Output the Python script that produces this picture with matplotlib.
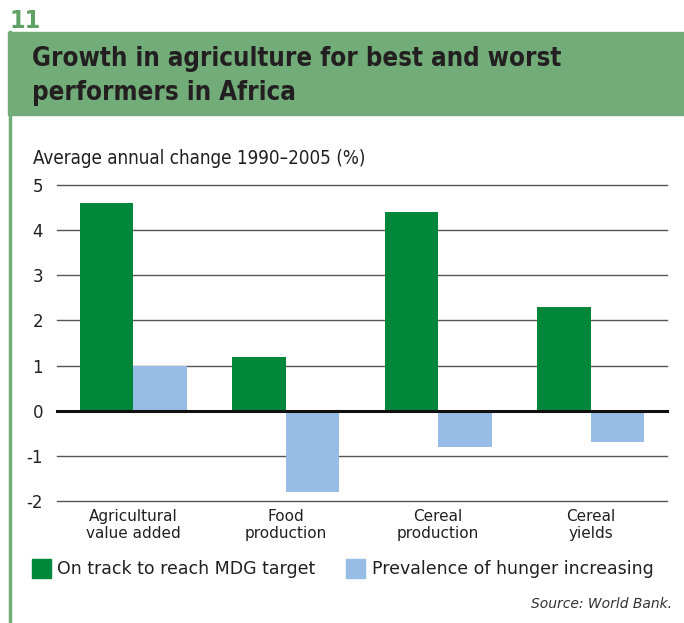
import matplotlib.pyplot as plt
import matplotlib.patches as mpatches
import numpy as np

# data
categories = ["Agricultural\nvalue added", "Food\nproduction", "Cereal\nproduction", "Cereal\nyields"]
on_track = [4.6, 1.2, 4.4, 2.3]
hunger_up = [1.0, -1.8, -0.8, -0.7]
yticks = [-2, -1, 0, 1, 2, 3, 4, 5]

green = "#00873a"
blue = "#97bde6"
band = "#72ac78"
txt = "#231f20"

plt.rcParams['font.family'] = ['DejaVu Sans']
fig = plt.figure(figsize=(6.84, 6.23), dpi=100)

# header band and side rule
fig.patches.append(mpatches.Rectangle((8/684, 1-115/623), 676/684, 83/623,
                                      transform=fig.transFigure, color=band, zorder=0))
fig.add_artist(plt.Line2D([10/684, 10/684], [0, 1-32/623], transform=fig.transFigure,
                          color=band, lw=2.5))
fig.text(10/684, 1-33/623, "11", color="#5fa067", fontsize=18, fontweight='bold',
         fontstretch='condensed', va='bottom', ha='left')
fig.text(32/684, 1-76/623, "Growth in agriculture for best and worst\nperformers in Africa",
         color=txt, fontsize=18.5, fontweight='bold', fontstretch='condensed',
         va='center', ha='left', linespacing=1.38)
fig.text(33/684, 1-158/623, "Average annual change 1990\u20132005 (%)", color=txt,
         fontsize=13.5, fontstretch='condensed', va='center', ha='left')

ax = fig.add_axes([57/684, 1-501/623, 610/684, 316/623])
x = np.arange(len(categories))
w = 0.35
ax.bar(x - w/2, on_track, w, color=green, zorder=3)
ax.bar(x + w/2, hunger_up, w, color=blue, zorder=3)
ax.set_xlim(-0.5, 3.5)
ax.set_ylim(-2, 5)
ax.set_yticks(yticks)
ax.set_yticklabels([str(t) for t in yticks], fontsize=12, color=txt)
for t in yticks:
    if t == 0:
        ax.axhline(t, color="#111111", lw=2.2, zorder=4, clip_on=False)
    else:
        ax.axhline(t, color="#555555", lw=1.0, zorder=1, clip_on=False)
ax.set_xticks(x)
ax.set_xticklabels(categories, fontsize=11, color=txt, linespacing=1.1)
ax.tick_params(axis='both', length=0, pad=10)
ax.tick_params(axis='x', pad=6)
for s in ax.spines.values():
    s.set_visible(False)

# legend drawn by hand
fig.patches.append(mpatches.Rectangle((32/684, 1-578/623), 19/684, 19/623,
                                      transform=fig.transFigure, color=green))
fig.text(57/684, 1-569/623, "On track to reach MDG target", fontsize=12.5, color=txt,
         va='center', ha='left')
fig.patches.append(mpatches.Rectangle((346/684, 1-578/623), 19/684, 19/623,
                                      transform=fig.transFigure, color=blue))
fig.text(372/684, 1-569/623, "Prevalence of hunger increasing", fontsize=12.5, color=txt,
         va='center', ha='left')
fig.text(672/684, 1-604/623, "Source: World Bank.", fontsize=10, style='italic',
         color="#333333", va='center', ha='right')

fig.savefig("out.png", dpi=100)
